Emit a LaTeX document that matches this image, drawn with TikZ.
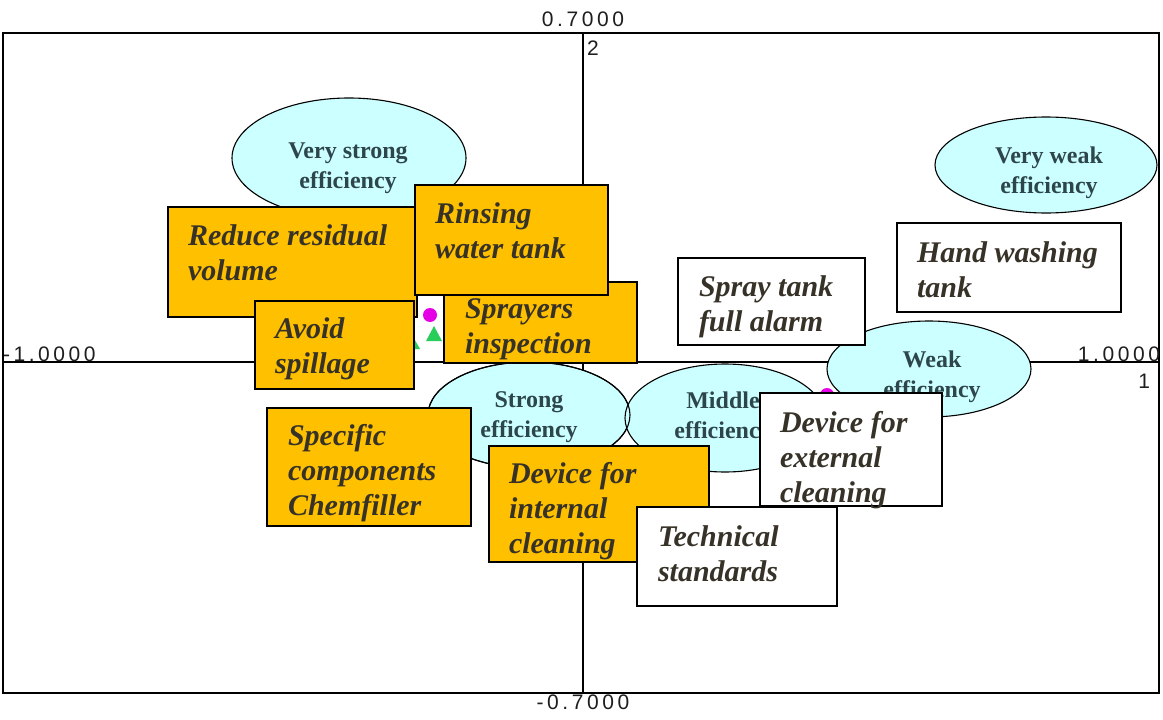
\documentclass[tikz,border=0pt]{standalone}
\usepackage{fontspec}
\setmainfont{Liberation Serif}
\newfontfamily\axisfont[LetterSpace=17]{Liberation Sans}
\usetikzlibrary{shapes.geometric}
\definecolor{boxorange}{RGB}{255,192,0}
\definecolor{ellcyan}{RGB}{204,255,255}
\definecolor{elltext}{RGB}{45,70,75}
\definecolor{boxtext}{RGB}{55,50,40}
\definecolor{axistext}{RGB}{30,30,30}
\definecolor{dotmag}{RGB}{230,0,230}
\definecolor{dotgreen}{RGB}{40,205,90}
\newcommand\linesL[1]{\vtop{\halign{##\hfil\cr#1\crcr}}}
\newcommand\linesC[1]{\vtop{\halign{\hfil##\hfil\cr#1\crcr}}}
\tikzset{
  every node/.style={inner sep=0pt, outer sep=0pt},
  plotframe/.style={line width=1.5pt, draw=black},
  axisline/.style={line width=1.3pt, draw=black},
  axislabel/.style={font=\axisfont\fontsize{21}{24}\selectfont, text=axistext},
  ell/.style={ellipse, draw=black, line width=1.1pt, fill=ellcyan, inner sep=0pt},
  elltxt/.style={font=\bfseries\fontsize{24}{30}\selectfont, text=elltext, anchor=base},
  obox/.style={draw=black, line width=1.4pt, fill=boxorange, anchor=north west},
  wbox/.style={draw=black, line width=1.4pt, fill=white, anchor=north west},
  btxt/.style={font=\bfseries\itshape\fontsize{30}{35}\selectfont, text=boxtext, anchor=base west},
}
\begin{document}
\begin{tikzpicture}[x=1pt, y=-1pt]
\useasboundingbox (0,0) rectangle (1163,720);
\fill[white] (0,0) rectangle (1163,720);
% axes
\draw[axisline] (583,33) -- (583,693);
\draw[axisline] (3,362) -- (1159,362);
\draw[plotframe] (3,33) rectangle (1159,693);
\node[axislabel, anchor=base] (ytop) at (583,27) {0.7000};
\node[axislabel, anchor=base] (ybot) at (583,709) {-0.7000};
\node[axislabel, anchor=base west] (xleft) at (3,361) {-1.0000};
\node[axislabel, anchor=base east] (xright) at (1160,361) {1.0000};
\node[axislabel, anchor=base west] (ytwo) at (587,55) {2};
\node[axislabel, anchor=base east] (xone) at (1150,388) {1};
% ellipses
\node[ell, minimum width=234pt, minimum height=120pt] (vstrong) at (349,158) {};
\node[elltxt] (vstrongT) at (348,158) {\linesC{Very strong\cr efficiency}};
\node[ell, minimum width=222pt, minimum height=96pt] (vweak) at (1046,165) {};
\node[elltxt] (vweakT) at (1049,163) {\linesC{Very weak\cr efficiency}};
\node[ell, minimum width=202pt, minimum height=106pt] (strong) at (529,415) {};
\node[ell, minimum width=200pt, minimum height=108pt] (middle) at (725,418) {};
\draw[line width=1.1pt] (strong.center) ellipse [x radius=101, y radius=53];
\node[elltxt] (strongT) at (529,407) {\linesC{Strong\cr efficiency}};
\node[elltxt] (middleT) at (723,408) {\linesC{Middle\cr efficiency}};
\node[ell, minimum width=204pt, minimum height=96pt] (weak) at (929,369) {};
\node[elltxt] (weakT) at (932,367) {\linesC{Weak\cr efficiency}};
% points
\fill[dotmag] (430,315) circle (7pt);
\fill[dotgreen] (434,326) -- (442,341) -- (426,341) -- cycle;
\fill[dotgreen] (412,335) -- (420,349) -- (404,349) -- cycle;
\fill[dotmag] (827,395) circle (7pt);
% orange boxes
\node[obox, minimum width=193pt, minimum height=81pt] (sprayers) at (444,282) {};
\node[btxt] (sprayersT) at (465,318) {\linesL{Sprayers\cr inspection}};
\node[obox, minimum width=249pt, minimum height=110pt] (reduce) at (168,207) {};
\node[btxt] (reduceT) at (188,245) {\linesL{Reduce residual\cr volume}};
\node[obox, minimum width=193pt, minimum height=110pt] (rinsing) at (415,185) {};
\node[btxt] (rinsingT) at (435,223) {\linesL{Rinsing\cr water tank}};
\node[obox, minimum width=159pt, minimum height=88pt] (avoid) at (255,301) {};
\node[btxt] (avoidT) at (275,338) {\linesL{Avoid\cr spillage}};
\node[obox, minimum width=204pt, minimum height=118pt] (specific) at (267,408) {};
\node[btxt] (specificT) at (288,445) {\linesL{Specific\cr components\cr Chemfiller}};
\node[obox, minimum width=220pt, minimum height=116pt] (devint) at (489,446) {};
\node[btxt] (devintT) at (509,483) {\linesL{Device for\cr internal\cr cleaning}};
% white boxes
\node[wbox, minimum width=187pt, minimum height=87pt] (spraytank) at (678,258) {};
\node[btxt] (spraytankT) at (699,296) {\linesL{Spray tank\cr full alarm}};
\node[wbox, minimum width=224pt, minimum height=89pt] (hand) at (897,223) {};
\node[btxt] (handT) at (917,262) {\linesL{Hand washing\cr tank}};
\node[wbox, minimum width=182pt, minimum height=113pt] (devext) at (760,393) {};
\node[btxt] (devextT) at (780,432) {\linesL{Device for\cr external\cr cleaning}};
\node[wbox, minimum width=200pt, minimum height=99pt] (technical) at (637,507) {};
\node[btxt] (technicalT) at (658,546) {\linesL{Technical\cr standards}};
\end{tikzpicture}
\end{document}
